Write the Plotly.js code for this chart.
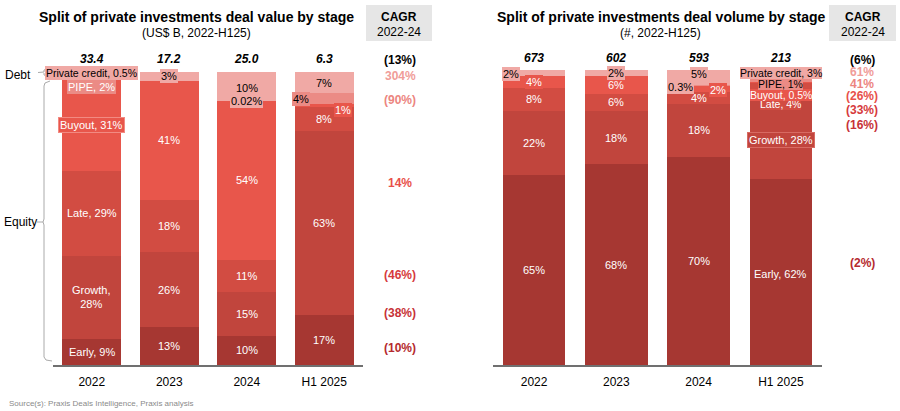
<!DOCTYPE html>
<html>
<head>
<meta charset="utf-8">
<script src="https://cdn.plot.ly/plotly-3.0.1.min.js"></script>
<style>html,body{margin:0;padding:0;background:#fff}#chart{width:900px;height:411px}</style>
</head>
<body>
<div id="chart"></div>
<script>
// ---------------- DATA ----------------
const years = ['2022', '2023', '2024', 'H1 2025'];
const stages = ['Early', 'Growth', 'Late', 'Buyout', 'PIPE', 'Private credit'];

// Deal value split (% of total)
const valueEarly = [9, 13, 10, 17];
const valueGrowth = [28, 26, 15, 63];
const valueLate = [29, 18, 11, 8];
const valueBuyout = [31, 41, 54, 1];
const valuePipe = [2, 0, 0.02, 4];
const valuePrivateCredit = [0.5, 3, 10, 7];
const valueTotals = ['33.4', '17.2', '25.0', '6.3'];
const valueCagr = ['(13%)', '304%', '(90%)', '14%', '(46%)', '(38%)', '(10%)'];

// Deal volume split (% of total)
const volumeEarly = [65, 68, 70, 62];
const volumeGrowth = [22, 18, 18, 28];
const volumeLate = [8, 6, 4, 4];
const volumeBuyout = [4, 6, 2, 0.5];
const volumePipe = [0, 0, 0.3, 1];
const volumePrivateCredit = [2, 2, 5, 3];
const volumeTotals = ['673', '602', '593', '213'];
const volumeCagr = ['(6%)', '61%', '41%', '(26%)', '(33%)', '(16%)', '(2%)'];

// ---------------- STYLE ----------------
const FONT = 'Liberation Sans, Arial, sans-serif';
const W = 900, H = 411;
const px = x => x / W;
const py = y => 1 - y / H;
const stageColors = ['#A63732', '#C1453D', '#D24C42', '#E8564B', '#EB8B85', '#F0A9A5'];
const cagrColors = ['#000000', '#F09C98', '#EC8580', '#E8504A', '#D63A3C', '#C73237', '#B52A2E'];

// label overrides: key chart-stage-year ; dx/dy in px (dy downward)
const labelStyle = {
  'v-5-0': {bg: '#F0A9A5', fc: '#000', size: 10.5},
  'v-4-0': {bg: '#EB8B85', dy: 11},
  'v-3-0': {bg: '#E8564B', border: '#F28A82'},
  'v-5-1': {bg: '#F0A9A5', fc: '#000'},
  'v-5-2': {fc: '#000', dy: 1},
  'v-4-2': {bg: '#F0A9A5', fc: '#000'},
  'v-5-3': {fc: '#000', dy: 1},
  'v-4-3': {bg: '#EB8B85', fc: '#000', dx: -23, dy: 1},
  'v-3-3': {bg: '#E8564B', dx: 19, dy: 4},
  'o-5-0': {bg: '#F0A9A5', fc: '#000', dx: -23, dy: 1},
  'o-3-0': {bg: '#E8564B'},
  'o-5-1': {bg: '#F0A9A5', fc: '#000'},
  'o-5-2': {bg: '#F0A9A5', fc: '#000', dy: -3},
  'o-4-2': {bg: '#F0A9A5', fc: '#000', dx: -18, dy: 2},
  'o-3-2': {bg: '#E8564B', dx: 19, dy: 1},
  'o-5-3': {bg: '#F0A9A5', fc: '#000', dy: -1, size: 10.5, pad: 0},
  'o-4-3': {bg: '#EB8B85', fc: '#000', dy: 4, size: 10.5, pad: 0},
  'o-3-3': {bg: '#E8564B', dy: 12.5, size: 10.5, pad: 0},
  'o-2-3': {bg: '#D24C42', dy: 15, size: 10.5, pad: 0},
  'o-1-3': {bg: '#C1453D', border: '#D86A62', dy: 3},
  'o-0-3': {dy: 2}
};

const charts = [
  {key: 'v', series: [valueEarly, valueGrowth, valueLate, valueBuyout, valuePipe, valuePrivateCredit],
   totals: valueTotals, cagr: valueCagr, xa: 'x', ya: 'y', namedYear: 0,
   cagrX: 400, cagrY: [60, 76, 100, 183, 275, 313, 348], breakStage: 1},
  {key: 'o', series: [volumeEarly, volumeGrowth, volumeLate, volumeBuyout, volumePipe, volumePrivateCredit],
   totals: volumeTotals, cagr: volumeCagr, xa: 'x2', ya: 'y2', namedYear: 3,
   cagrX: 862, cagrY: [60, 72, 84, 96, 110, 125, 263], breakStage: -1}
];

const traces = [];
const annotations = [];

charts.forEach(c => {
  const sums = years.map((_, j) => c.series.reduce((a, s) => a + s[j], 0));
  c.series.forEach((s, i) => {
    traces.push({
      type: 'bar', x: years, y: s, xaxis: c.xa, yaxis: c.ya,
      name: stages[i], showlegend: false, hoverinfo: 'skip',
      marker: {color: stageColors[i], line: {width: 0}}
    });
  });
  years.forEach((yr, j) => {
    let cum = 0;
    c.series.forEach((s, i) => {
      const v = s[j];
      const mid = (cum + v / 2) / sums[j] * 100;
      cum += v;
      if (!v) return;
      const st = labelStyle[c.key + '-' + i + '-' + j] || {};
      let txt = v + '%';
      if (j === c.namedYear) {
        txt = stages[i] + (i === c.breakStage ? ',<br>' : ', ') + v + '%';
      }
      annotations.push({
        x: j, y: mid, xref: c.xa, yref: c.ya, text: txt, showarrow: false,
        xshift: st.dx || 0, yshift: -(st.dy || 0),
        font: {family: FONT, size: st.size || 11, color: st.fc || '#ffffff'},
        bgcolor: st.bg || 'rgba(0,0,0,0)', bordercolor: st.border || 'rgba(0,0,0,0)',
        borderwidth: st.border ? 1 : 0, borderpad: st.pad === undefined ? 1 : st.pad
      });
    });
    annotations.push({
      x: j, y: py(c.key === 'v' ? 59 : 58), xref: c.xa, yref: 'paper', text: '<b><i>' + c.totals[j] + '</i></b>',
      showarrow: false, font: {family: FONT, size: 12, color: '#000'}, yanchor: 'middle'
    });
  });
  c.cagr.forEach((t, k) => {
    annotations.push({
      x: px(c.cagrX), y: py(c.cagrY[k]), xref: 'paper', yref: 'paper', text: '<b>' + t + '</b>',
      showarrow: false, font: {family: FONT, size: 12, color: cagrColors[k]}, xanchor: 'center', yanchor: 'middle'
    });
  });
});

// titles
const textAnn = (x, y, t, size, opts) => Object.assign({
  x: px(x), y: py(y), xref: 'paper', yref: 'paper', text: t, showarrow: false,
  font: {family: FONT, size: size, color: '#000'}, xanchor: 'center', yanchor: 'middle'
}, opts || {});
annotations.push(textAnn(196, 17, '<b>Split of private investments deal value by stage</b>', 14));
annotations.push(textAnn(196, 33, '(US$ B, 2022-H125)', 12));
annotations.push(textAnn(661, 17, '<b>Split of private investments deal volume by stage</b>', 14));
annotations.push(textAnn(660, 33, '(#, 2022-H125)', 12));
annotations.push(textAnn(399, 17, '<b>CAGR</b>', 12));
annotations.push(textAnn(399, 32, '2022-24', 12));
annotations.push(textAnn(863, 17, '<b>CAGR</b>', 12));
annotations.push(textAnn(863, 32, '2022-24', 12));
annotations.push(textAnn(3, 75, 'Debt', 12, {xanchor: 'left'}));
annotations.push(textAnn(2, 222, 'Equity', 12, {xanchor: 'left'}));
annotations.push(textAnn(7, 403, 'Source(s): Praxis Deals Intelligence, Praxis analysis', 8, {xanchor: 'left', font: {family: FONT, size: 8, color: '#8a8a8a'}}));

const P = (x, y) => px(x) + ',' + py(y);
const shapes = [
  {type: 'rect', xref: 'paper', yref: 'paper', x0: px(366), x1: px(432), y0: py(41), y1: py(5), fillcolor: '#E6E6E6', line: {width: 0}, layer: 'below'},
  {type: 'rect', xref: 'paper', yref: 'paper', x0: px(829), x1: px(896), y0: py(41), y1: py(5), fillcolor: '#E6E6E6', line: {width: 0}, layer: 'below'},
  {type: 'path', xref: 'paper', yref: 'paper', line: {color: '#AAAAAA', width: 1},
   path: 'M' + P(48, 69) + ' L' + P(44, 70) + ' L' + P(44, 72) + ' L' + P(38, 72.5) + ' M' + P(44, 73) + ' L' + P(44, 75) + ' L' + P(48, 76)},
  {type: 'path', xref: 'paper', yref: 'paper', line: {color: '#AAAAAA', width: 1},
   path: 'M' + P(50, 81) + ' L' + P(45, 83) + ' L' + P(44, 86) + ' L' + P(44, 219) + ' L' + P(43, 222) + ' L' + P(37, 222) +
         ' M' + P(43, 222) + ' L' + P(44, 225) + ' L' + P(44, 357) + ' L' + P(46, 360) + ' L' + P(52, 361)}
];

const xaxisBase = {
  type: 'category', range: [-0.5, 3.5], autorange: false, showgrid: false, zeroline: false, showline: true,
  linecolor: '#707070', linewidth: 1.5, ticklabelstandoff: 5,
  ticks: '', tickfont: {family: FONT, size: 12, color: '#000'}, fixedrange: true
};
const yaxisBase = {range: [0, 100], autorange: false, visible: false, showgrid: false, zeroline: false, fixedrange: true};

const layout = {
  width: W, height: H, margin: {l: 0, r: 0, t: 0, b: 0},
  paper_bgcolor: '#fff', plot_bgcolor: 'rgba(0,0,0,0)',
  barmode: 'stack', barnorm: 'percent', bargap: 0.24,
  font: {family: FONT},
  xaxis: Object.assign({}, xaxisBase, {domain: [px(53), px(363)], anchor: 'y'}),
  yaxis: Object.assign({}, yaxisBase, {domain: [py(365), py(72)], anchor: 'x'}),
  xaxis2: Object.assign({}, xaxisBase, {domain: [px(493), px(822)], anchor: 'y2'}),
  yaxis2: Object.assign({}, yaxisBase, {domain: [py(365), py(70)], anchor: 'x2'}),
  annotations: annotations, shapes: shapes, showlegend: false
};

Plotly.newPlot('chart', traces, layout, {staticPlot: true, displayModeBar: false});
</script>
</body>
</html>
